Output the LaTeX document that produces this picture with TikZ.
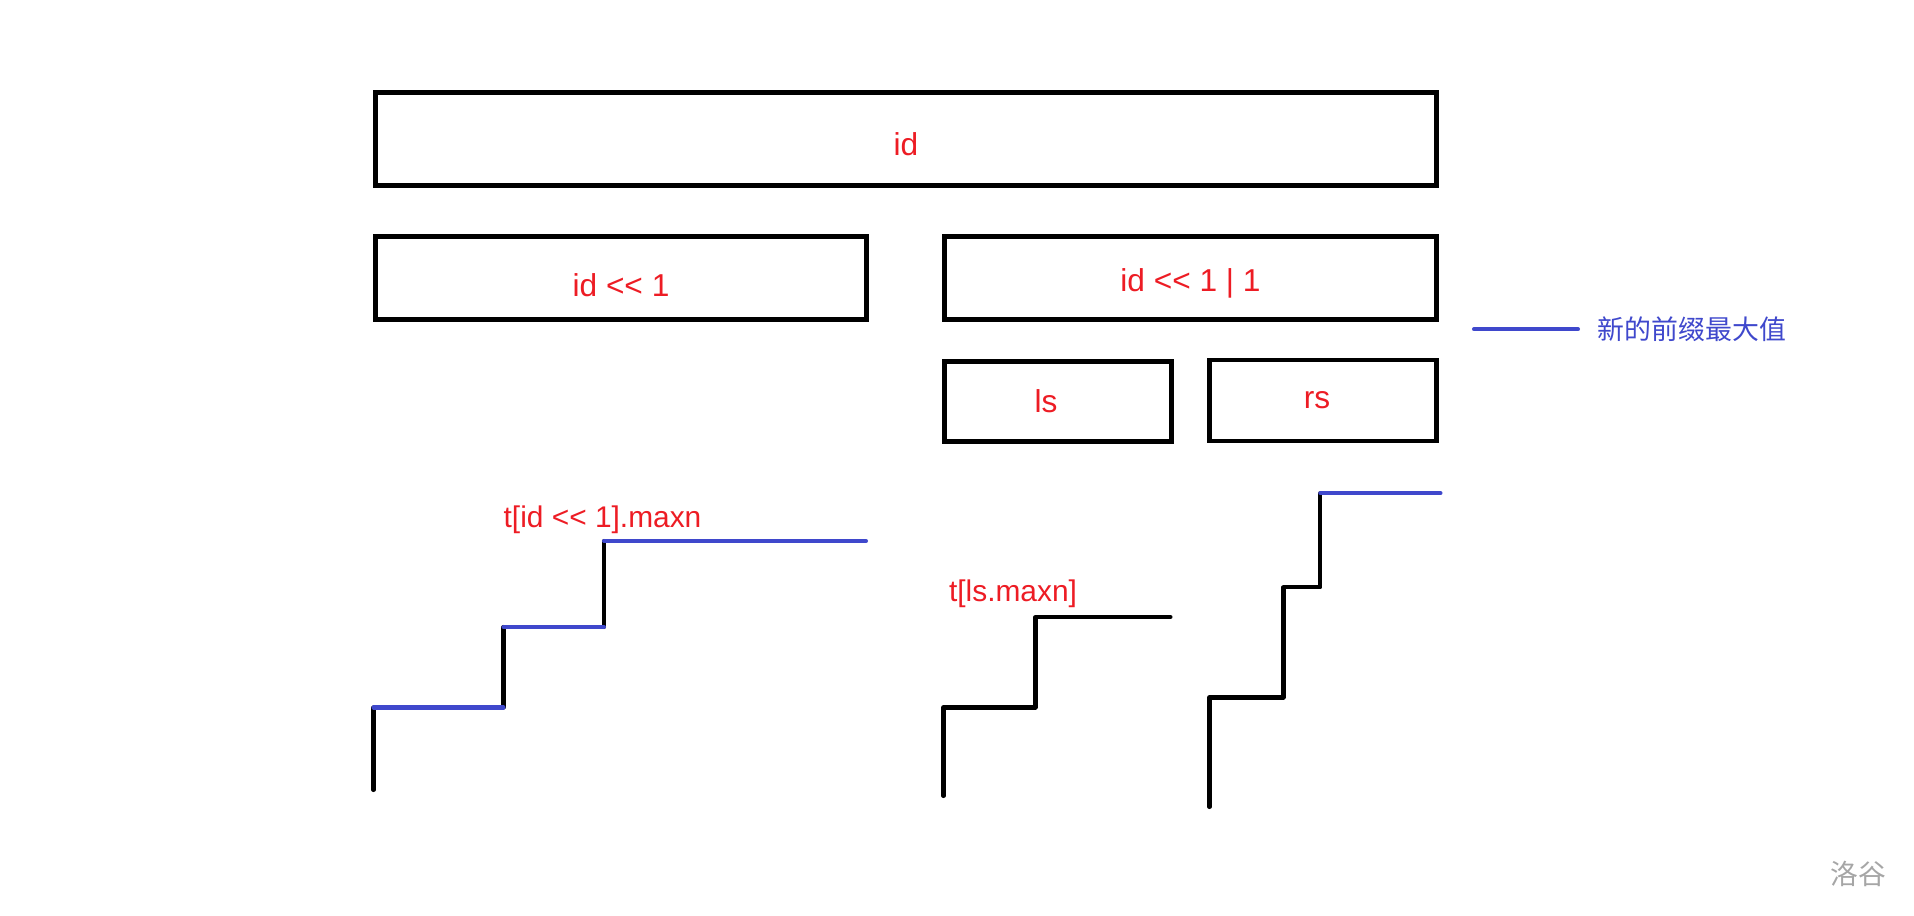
\documentclass[tikz,border=0pt]{standalone}
\usepackage{fontspec}
\setmainfont{Liberation Sans}
\newfontfamily\cjk{Noto Sans CJK SC}
\usetikzlibrary{positioning}

\definecolor{paintred}{RGB}{237,28,36}
\definecolor{paintblue}{RGB}{63,72,204}

\tikzset{
	seg/.style={draw,line width=1.35pt,minimum height=0.83cm,inner sep=0pt},
	seglabel/.style={inner sep=0pt,text=paintred,font=\fontsize{9}{11}\selectfont},
	stair/.style={line width=1.15pt,line cap=round,line join=round},
	maxline/.style={stair,paintblue},
	maxlabel/.style={inner sep=0pt,text=paintred,font=\fontsize{8.5}{10}\selectfont}
}

\begin{document}
\begin{tikzpicture}[x=0.01cm,y=-0.01cm]
	\useasboundingbox (0,0) rectangle (1914,916);
	% Segment tree nodes
	\node[seg,minimum width=10.6cm,minimum height=0.93cm] (root) at (906,139) {};
	\node[seg,minimum width=4.9cm] (lc) at (621,278) {};
	\node[seg,minimum width=4.92cm] (rc) at (1190.5,278) {};
	\node[seg,minimum width=2.27cm,minimum height=0.8cm] (ls) at (1058,401.5) {};
	\node[seg,minimum width=2.27cm,minimum height=0.81cm] (rs) at (1323,400.5) {};
	\node[seglabel] (rootlabel) at ([yshift=-0.05cm]root) {id};
	\node[seglabel] (lclabel) at ([yshift=-0.07cm]lc) {id <{}< 1};
	\node[seglabel] (rclabel) at ([yshift=-0.05cm]rc) {id <{}< 1 | 1};
	\node[seglabel] (lslabel) at ([xshift=-0.12cm]ls) {ls};
	\node[seglabel] (rslabel) at ([xshift=-0.06cm]rs) {rs};

	% Legend
	\coordinate (keyA) at (1474,329.3);
	\coordinate (keyB) at (1578,329.3);
	\draw[maxline] (keyA) -- (keyB);
	\node[right=0.19cm of keyB,inner sep=0pt,text=paintblue,font=\cjk\fontsize{7.65}{9}\selectfont] (key) {新的前缀最大值};

	% Prefix maxima of the left child
	\draw[stair] (373.5,790) -- (373.5,707.5) (503.5,707.5) -- (503.5,627) (604,627) -- (604,541);
	\draw[maxline] (373.5,707.5) -- (503.5,707.5) (503.5,627) -- (604,627) (604,541) -- (866,541);
	\node[maxlabel] (lmax) at (602.5,520) {t[id <{}< 1].maxn};

	% Right child: ls and rs
	\draw[stair] (943.5,796) |- (1035.5,707.5) |- (1170.5,617);
	\node[maxlabel] (lsmax) at (1013,594) {t[ls.maxn]};
	\draw[stair] (1209.5,807) |- (1283.5,697.5) |- (1320.3,587.3) -- (1320.3,493.3);
	\draw[maxline] (1320.3,493.3) -- (1440.5,493.3);

	\node[text=black!35,font=\cjk\fontsize{7.9}{9}\selectfont] (mark) at (1858,874) {洛谷};
\end{tikzpicture}
\end{document}
